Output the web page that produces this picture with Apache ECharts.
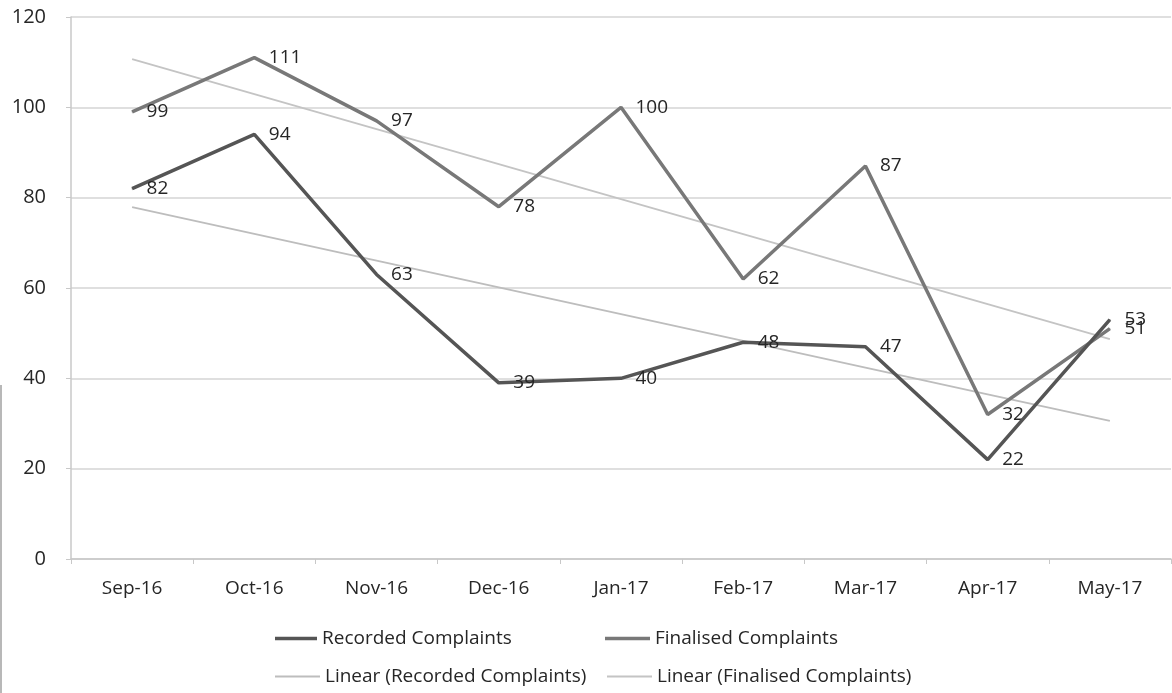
<!DOCTYPE html>
<html>
<head>
<meta charset="utf-8">
<script src="https://cdn.jsdelivr.net/npm/echarts@6/dist/echarts.min.js"></script>
<style>
  html, body { margin: 0; padding: 0; background: #fff; }
  #chart { width: 1172px; height: 693px; }
</style>
</head>
<body>
<div id="chart"></div>
<script>
// Monthly complaint counts
const months = ['Sep-16', 'Oct-16', 'Nov-16', 'Dec-16', 'Jan-17', 'Feb-17', 'Mar-17', 'Apr-17', 'May-17'];
const recorded = [82, 94, 63, 39, 40, 48, 47, 22, 53];
const finalised = [99, 111, 97, 78, 100, 62, 87, 32, 51];
const yTicks = [0, 20, 40, 60, 80, 100, 120];

// Least-squares linear trend over the month index
function linearTrend(values) {
  const n = values.length;
  const xs = values.map((_, i) => i + 1);
  const mx = xs.reduce((a, b) => a + b, 0) / n;
  const my = values.reduce((a, b) => a + b, 0) / n;
  let sxy = 0, sxx = 0;
  xs.forEach((x, i) => { sxy += (x - mx) * (values[i] - my); sxx += (x - mx) * (x - mx); });
  const slope = sxy / sxx;
  return xs.map(x => my + slope * (x - mx));
}

const FONT = '"Open Sans", Lato, sans-serif';
const TEXT = '#262626';
const chart = echarts.init(document.getElementById('chart'));

const valueLabel = {
  show: true,
  position: 'right',
  distance: 14,
  color: TEXT,
  fontSize: 19,
  fontFamily: FONT
};

// One legend block per entry, so each sits where it belongs
function legendItem(name, left, top, width, thick) {
  return {
    data: [name],
    left: left, top: top,
    padding: 0,
    itemWidth: width, itemHeight: thick ? 3.5 : 1.8,
    icon: 'rect',
    textStyle: { color: TEXT, fontSize: 19, fontFamily: FONT }
  };
}

chart.setOption({
  animation: false,
  backgroundColor: '#fff',
  grid: { left: 71, right: 1, top: 17, bottom: 134, containLabel: false },
  xAxis: {
    type: 'category',
    data: months,
    boundaryGap: true,
    axisLine: { lineStyle: { color: '#c8c8c8', width: 1.5 } },
    axisTick: { show: true, length: 5, lineStyle: { color: '#c8c8c8' } },
    axisLabel: { color: TEXT, fontSize: 19, fontFamily: FONT, margin: 20 },
    splitLine: { show: false }
  },
  yAxis: {
    type: 'value',
    min: yTicks[0],
    max: yTicks[yTicks.length - 1],
    interval: yTicks[1] - yTicks[0],
    axisLine: { show: true, lineStyle: { color: '#c8c8c8', width: 1.5 } },
    axisTick: { show: true, length: 5, lineStyle: { color: '#c8c8c8' } },
    axisLabel: { color: TEXT, fontSize: 20, fontFamily: FONT, margin: 25 },
    splitLine: { show: true, lineStyle: { color: '#d4d4d4', width: 1.5 } }
  },
  legend: [
    legendItem('Recorded Complaints', 275, 629, 42, true),
    legendItem('Finalised Complaints', 605, 629, 45, true),
    legendItem('Linear (Recorded Complaints)', 275, 667, 45, false),
    legendItem('Linear (Finalised Complaints)', 607, 667, 45, false)
  ],
  graphic: [{
    type: 'line',
    shape: { x1: 1, y1: 385, x2: 1, y2: 693 },
    style: { stroke: '#b8b8b8', lineWidth: 2 }
  }],
  series: [
    {
      name: 'Linear (Recorded Complaints)',
      type: 'line',
      data: linearTrend(recorded),
      symbol: 'none',
      lineStyle: { color: '#bdbdbd', width: 1.8 },
      itemStyle: { color: '#bdbdbd' },
      z: 1
    },
    {
      name: 'Linear (Finalised Complaints)',
      type: 'line',
      data: linearTrend(finalised),
      symbol: 'none',
      lineStyle: { color: '#c4c4c4', width: 1.8 },
      itemStyle: { color: '#c4c4c4' },
      z: 1
    },
    {
      name: 'Finalised Complaints',
      type: 'line',
      data: finalised,
      symbol: 'circle',
      symbolSize: 1,
      showSymbol: true,
      lineStyle: { color: '#787878', width: 3.5 },
      itemStyle: { color: '#787878' },
      label: valueLabel,
      z: 3
    },
    {
      name: 'Recorded Complaints',
      type: 'line',
      data: recorded,
      symbol: 'circle',
      symbolSize: 1,
      showSymbol: true,
      lineStyle: { color: '#555555', width: 3.5 },
      itemStyle: { color: '#555555' },
      label: valueLabel,
      z: 4
    }
  ]
});
</script>
</body>
</html>
